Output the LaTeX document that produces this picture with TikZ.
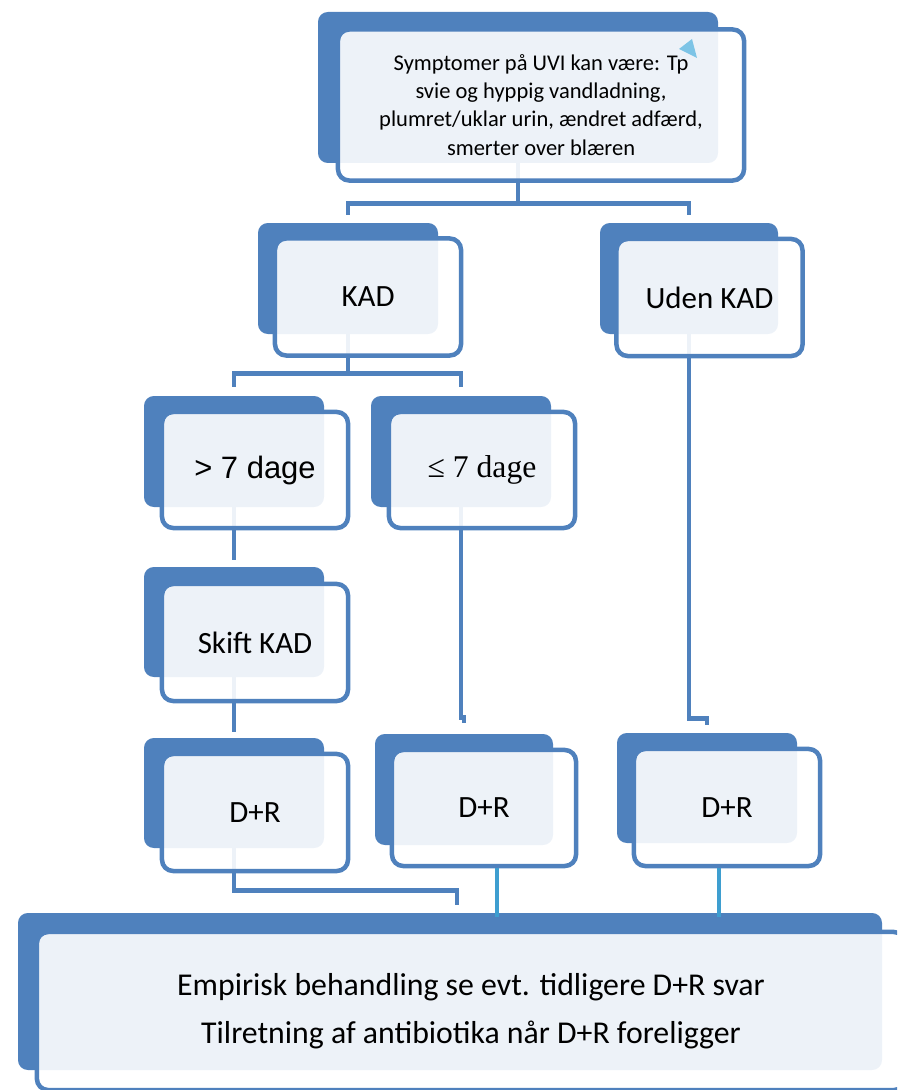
\documentclass[tikz,border=0pt]{standalone}
\usepackage{fontspec}
\setmainfont{Carlito}
\newfontfamily\arialfont{Liberation Sans}
\newfontfamily\timesfont{Liberation Serif}
\usetikzlibrary{fit}

\definecolor{kblue}{RGB}{79,129,189}
\definecolor{kcyan}{RGB}{62,158,208}
\definecolor{ktip}{RGB}{125,196,230}
\tikzset{uviflow/.style={x=0.025cm,y=-0.025cm},
  back/.style={fill=kblue,rounded corners=7pt,inner sep=0pt},
  front/.style={draw=kblue,line width=3.2pt,rounded corners=8pt,fill=white,fill opacity=0.9,
    text opacity=1,inner sep=0pt,align=center,font=\fontsize{22}{26}\selectfont,
    minimum width=4.65cm,minimum height=2.925cm},
  conn/.style={draw=kblue,line width=3.4pt},
  connb/.style={draw=kcyan,line width=2.8pt}}

\begin{document}
\begin{tikzpicture}[uviflow]
    \useasboundingbox (0,0) rectangle (897,1090);
    \clip (0,0) rectangle (897,1090);
    % back tabs
    \node[back,fit={(318,12) (718,163)}]   (top-b)   {};
    \node[back,fit={(258,223) (438,334)}]  (kad-b)   {};
    \node[back,fit={(600,223) (778,334)}]  (uden-b)  {};
    \node[back,fit={(144,396) (324,507)}]  (gt7-b)   {};
    \node[back,fit={(371,396) (551,507)}]  (le7-b)   {};
    \node[back,fit={(144,567) (324,677)}]  (skift-b) {};
    \node[back,fit={(144,738) (324,848)}]  (dr1-b)   {};
    \node[back,fit={(375,734) (553,845)}]  (dr2-b)   {};
    \node[back,fit={(617,733) (797,843)}]  (dr3-b)   {};
    \node[back,fit={(18,913) (882,1070)}]  (bund-b)  {};
    % connectors
    \draw[conn] (top-b.south) -- ++(0,40) coordinate (j1);
    \draw[conn] ([yshift=0.2cm]kad-b.north) |- (j1) -| ([yshift=0.2cm]uden-b.north);
    \draw[conn] (kad-b.south) -- ++(0,39) coordinate (j2);
    \draw[conn] ([yshift=0.225cm]gt7-b.north) |- (j2) -| ([yshift=0.225cm]le7-b.north);
    \draw[conn] (gt7-b.south) -- ([yshift=0.175cm]skift-b.north);
    \draw[conn] (skift-b.south) -- ([yshift=0.15cm]dr1-b.north);
    \draw[conn] (le7-b.south) -- ++(0,210) -| ([yshift=0.275cm]dr2-b.north);
    \draw[conn] (uden-b.south) -- ++(0,384) -| ([yshift=0.2cm]dr3-b.north);
    \draw[conn] (dr1-b.south) -- ++(0,42) -| ([xshift=0.175cm,yshift=0.2cm]bund-b.north);
    % front boxes
    \node[front,minimum width=10.15cm,minimum height=3.775cm,font=\fontsize{16}{20}\selectfont] (top) at (541,105)
      {Symptomer på UVI kan være: Tp\\svie og hyppig vandladning,\\plumret/uklar urin, ændret adfærd,\\smerter over blæren};
    \node[front] (kad)   at (368,297)   {KAD};
    \node[front] (uden)  at (709.5,297.5) {Uden KAD};
    \node[front,minimum height=2.9cm,font=\arialfont\fontsize{22}{26}\selectfont] (gt7) at (255,470) {> 7 dage};
    \node[front,minimum height=2.9cm,font=\timesfont\fontsize{22.5}{26}\selectfont] (le7) at (482,470) {≤ 7 dage};
    \node[front] (skift) at (255,642.5) {Skift KAD};
    \node[front] (dr1)   at (255,812.5) {D+R};
    \node[front,minimum width=4.6cm,minimum height=2.9cm] (dr2) at (484,808) {D+R};
    \node[front] (dr3)   at (727,807.5) {D+R};
    \node[front,minimum width=21.7cm,minimum height=3.95cm,font=\fontsize{22.6}{34}\selectfont] (bund) at (471,1011)
      {Empirisk behandling se evt. tidligere D+R svar\\Tilretning af antibiotika når D+R foreligger};
    \draw[connb] ([xshift=0.325cm]dr2.south) -- ([xshift=0.325cm,yshift=-0.1cm]dr2.south |- bund-b.north);
    \draw[connb] ([xshift=-0.2cm]dr3.south) -- ([xshift=-0.2cm,yshift=-0.1cm]dr3.south |- bund-b.north);
    \fill[ktip] (692,39) -- (679,49) -- (697,58) -- cycle;
  \end{tikzpicture}
\end{document}
